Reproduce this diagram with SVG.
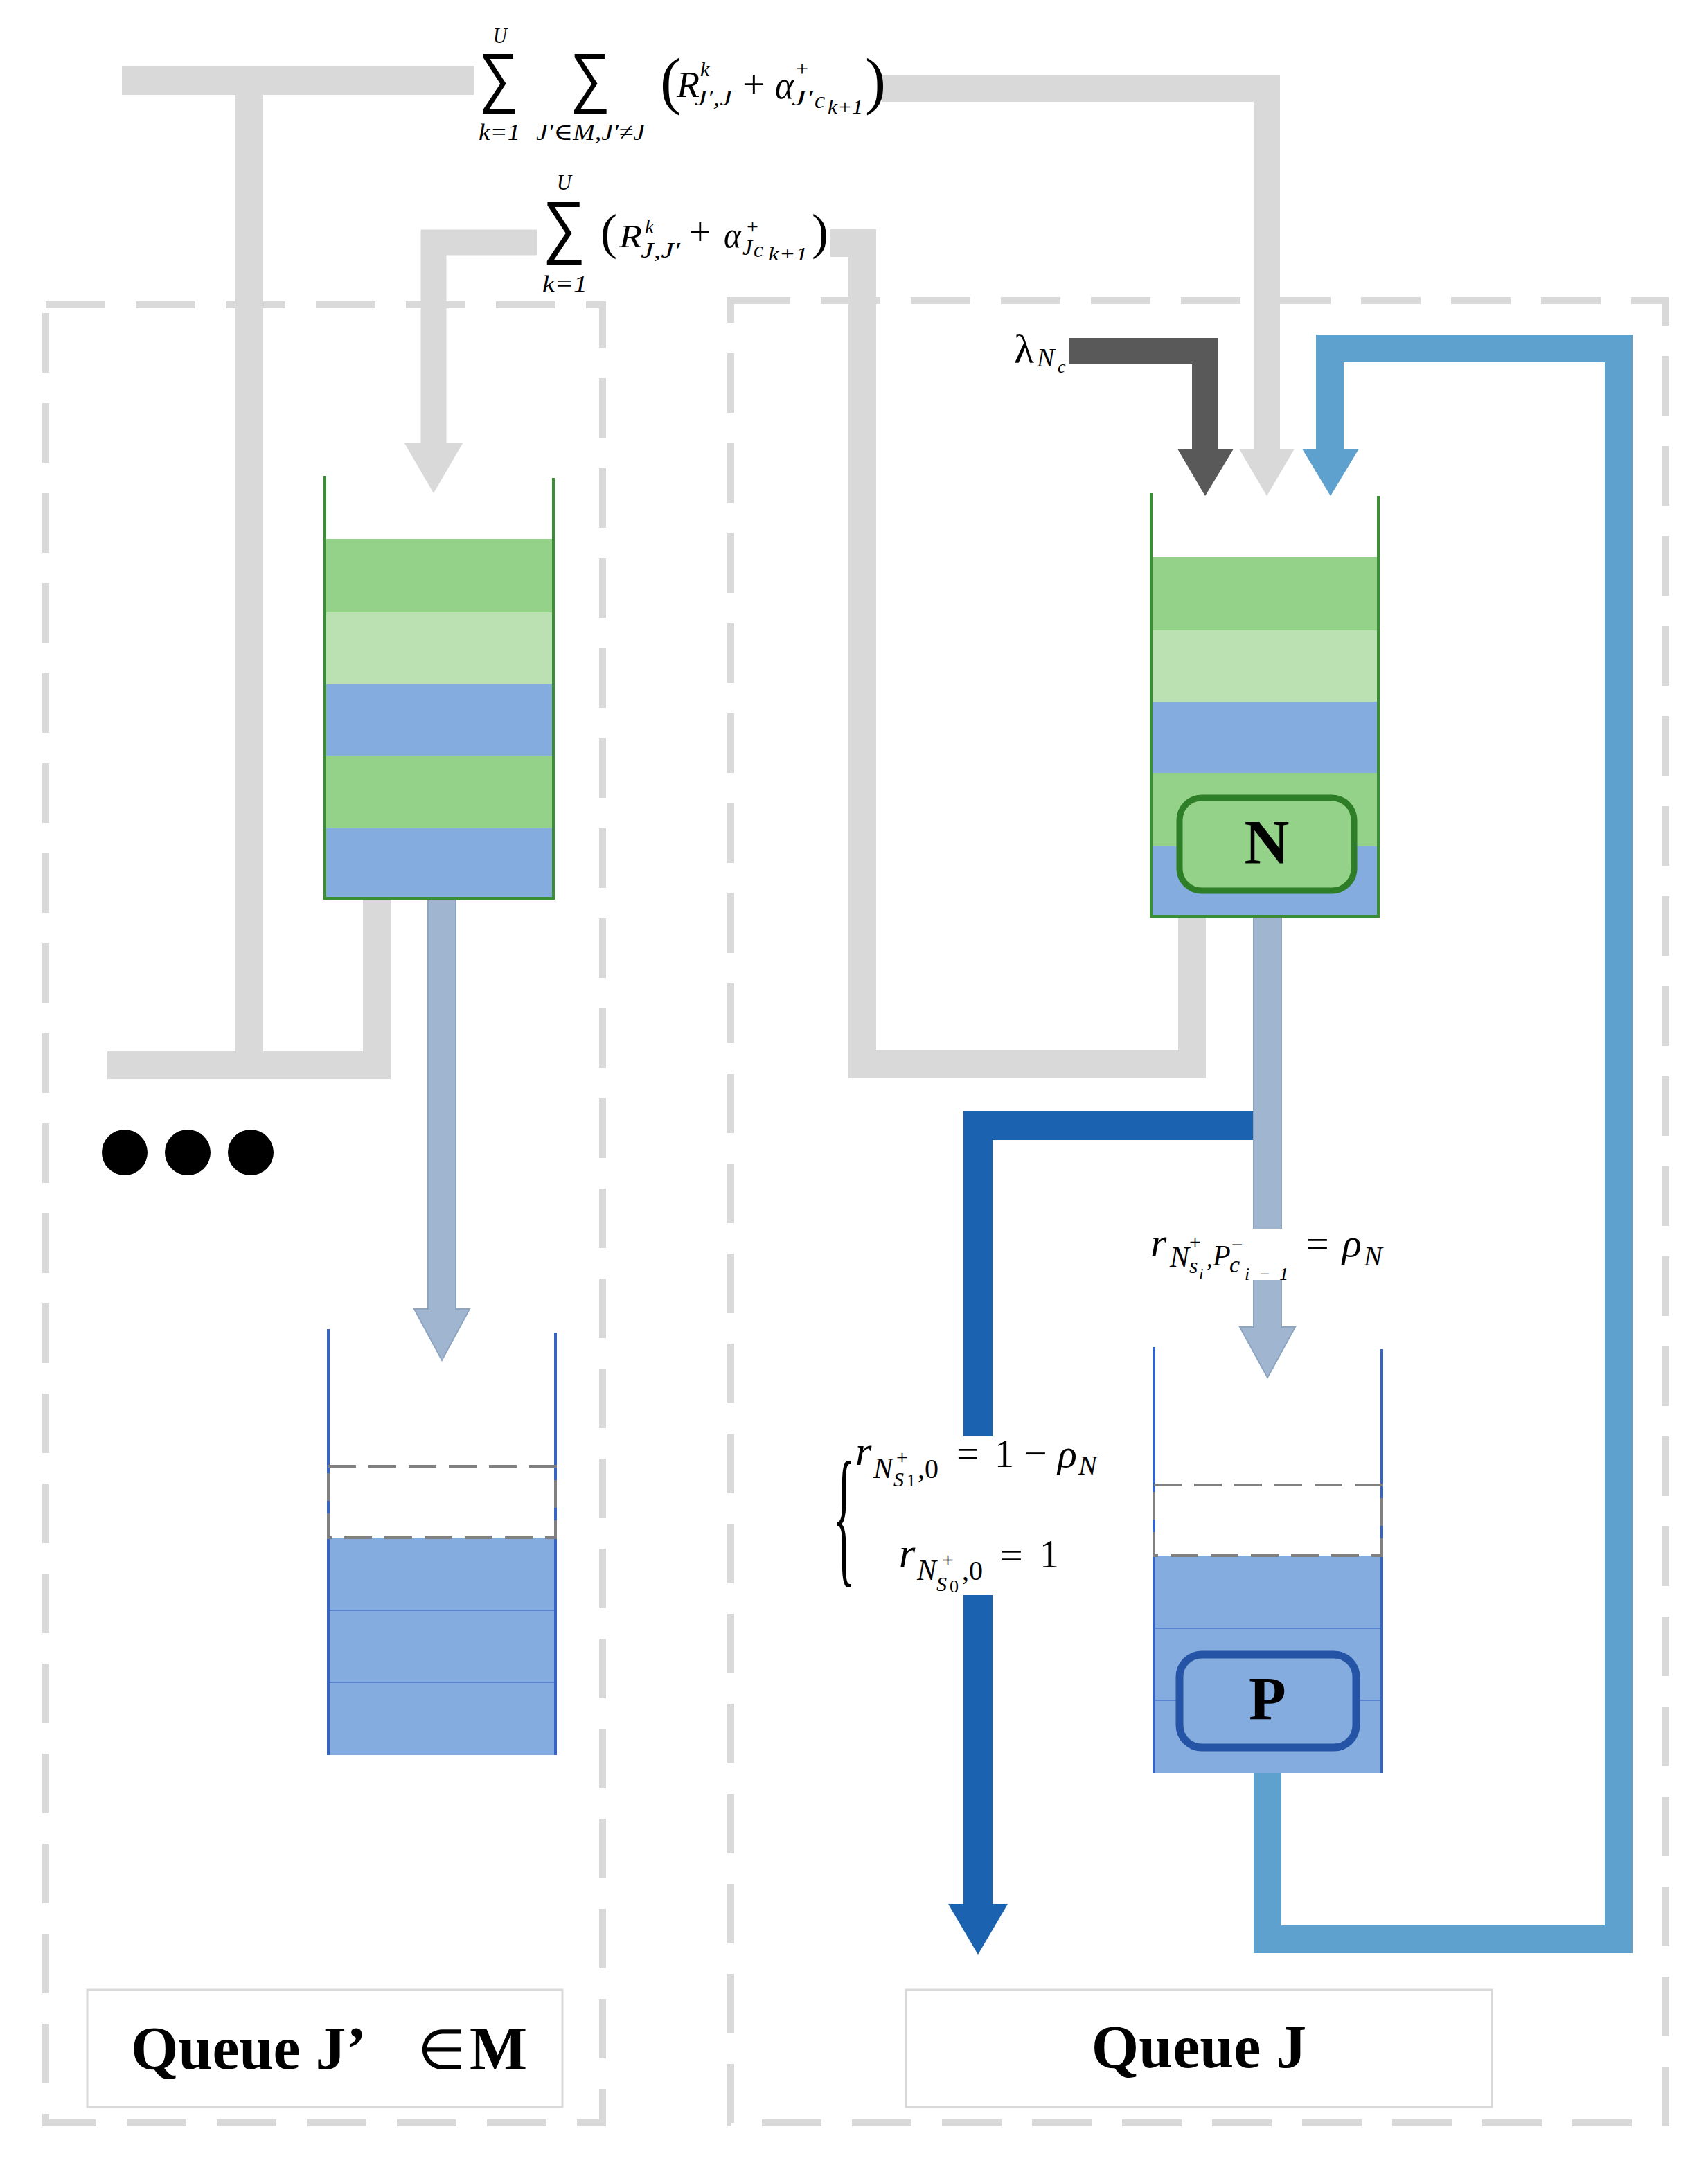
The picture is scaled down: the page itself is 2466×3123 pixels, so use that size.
<svg xmlns="http://www.w3.org/2000/svg" width="2466" height="3123" viewBox="0 0 2466 3123">
<style>
.frame{fill:none;stroke:#d9d9d9;stroke-width:10;stroke-dasharray:86 44}
.bar{fill:none;stroke-linejoin:miter;stroke-linecap:butt}
.lg{stroke:#d9d9d9}
.lgf{fill:#d9d9d9}
.dg{stroke:#595959}
.dgf{fill:#595959}
.lb{stroke:#5ea1cf}
.lbf{fill:#5ea1cf}
.db{stroke:#1b63b0}
.dbf{fill:#1b63b0}
.gb{fill:#a0b5cf;stroke:#8ea5c2;stroke-width:2}
.g1{fill:#95d289}
.g2{fill:#bbe0b2}
.b1{fill:#84acde}
.gwall{fill:none;stroke:#3a8f35;stroke-width:4}
.bwall{fill:none;stroke:#3763c2;stroke-width:4}
.bline{stroke:#5b84cf;stroke-width:2}
.dash{fill:none;stroke:#808080;stroke-width:4;stroke-dasharray:40 18}
.lab{fill:#fff;stroke:#d9d9d9;stroke-width:3}
.big{font-family:"Liberation Serif",serif;font-weight:bold;fill:#000}
.m{font-family:"Liberation Serif","DejaVu Serif",serif;font-style:italic;fill:#000}
.mu{font-family:"Liberation Serif","DejaVu Serif",serif;fill:#000}
.sig{font-family:"Liberation Sans","DejaVu Sans",sans-serif;fill:#000}
</style>

<g id="frames">
<rect id="frame-jprime" class="frame" x="66" y="440" width="804" height="2625"/>
<rect id="frame-j" class="frame" x="1055" y="434" width="1350" height="2631"/>
</g>

<g id="connectors">
<path class="bar lg" stroke-width="42" d="M176,116 H684"/>
<path class="bar lg" stroke-width="40" d="M360,116 V1538"/>
<path class="bar lg" stroke-width="40" d="M544,1297 V1538 H155"/>
<path class="bar lg" stroke-width="37" d="M775,350 H626 V642"/>
<polygon class="lgf" points="584,640 668,640 626,712"/>
<path class="bar lg" stroke-width="40" d="M1198,351 H1245 V1536 H1721 V1323"/>
<path class="bar lg" stroke-width="38" d="M1273,128 H1829 V650"/>
<polygon class="lgf" points="1789,648 1869,648 1829,716"/>
<path class="bar dg" stroke-width="38" d="M1544,507 H1740 V650"/>
<polygon class="dgf" points="1700,648 1781,648 1740,716"/>
<path class="bar lb" stroke-width="40" d="M1830,2560 V2800 H2337 V503 H1920 V650"/>
<polygon class="lbf" points="1880,648 1962,648 1921,716"/>
<path class="bar db" stroke-width="42" d="M1811,1625 H1412 V2751"/>
<polygon class="dbf" points="1369,2749 1455,2749 1412,2822"/>
<polygon class="gb" points="618,1297 658,1297 658,1890 678,1890 638,1964 598,1890 618,1890"/>
<polygon class="gb" points="1810,1323 1850,1323 1850,1916 1870,1916 1830,1989 1790,1916 1810,1916"/>
</g>

<g id="queue-jprime-upper">
<rect class="g1" x="469" y="778" width="330" height="106"/>
<rect class="g2" x="469" y="884" width="330" height="104"/>
<rect class="b1" x="469" y="988" width="330" height="103"/>
<rect class="g1" x="469" y="1091" width="330" height="105"/>
<rect class="b1" x="469" y="1196" width="330" height="101"/>
<polyline class="gwall" points="469,687 469,1297 799,1297 799,690"/>
</g>

<g id="queue-jprime-lower">
<rect class="b1" x="474" y="2220" width="328" height="314"/>
<line class="bline" x1="474" y1="2325" x2="802" y2="2325"/>
<line class="bline" x1="474" y1="2429" x2="802" y2="2429"/>
<line class="bwall" x1="474" y1="1919" x2="474" y2="2534"/>
<line class="bwall" x1="802" y1="1924" x2="802" y2="2534"/>
<rect class="dash" x="474" y="2117" width="328" height="103"/>
</g>

<g id="queue-j-n">
<rect class="g1" x="1662" y="804" width="328" height="106"/>
<rect class="g2" x="1662" y="910" width="328" height="103"/>
<rect class="b1" x="1662" y="1013" width="328" height="103"/>
<rect class="g1" x="1662" y="1116" width="328" height="106"/>
<rect class="b1" x="1662" y="1222" width="328" height="101"/>
<polyline class="gwall" points="1662,712 1662,1323 1990,1323 1990,716"/>
<rect x="1703" y="1152" width="252" height="134" rx="32" fill="#95d289" stroke="#2e7d27" stroke-width="9"/>
<text class="big" x="1829" y="1247" font-size="90" text-anchor="middle">N</text>
</g>

<g id="queue-j-p">
<rect class="b1" x="1666" y="2246" width="329" height="314"/>
<line class="bline" x1="1666" y1="2351" x2="1995" y2="2351"/>
<line class="bline" x1="1666" y1="2455" x2="1995" y2="2455"/>
<line class="bwall" x1="1666" y1="1945" x2="1666" y2="2560"/>
<line class="bwall" x1="1995" y1="1948" x2="1995" y2="2560"/>
<rect class="dash" x="1666" y="2144" width="329" height="102"/>
<rect x="1703" y="2389" width="255" height="134" rx="32" fill="#84acde" stroke="#2553a5" stroke-width="11"/>
<text class="big" x="1830" y="2482" font-size="88" text-anchor="middle">P</text>
</g>

<g id="dots">
<circle cx="180" cy="1664" r="33"/>
<circle cx="271" cy="1664" r="33"/>
<circle cx="362" cy="1664" r="33"/>
</g>

<g id="label-jprime">
<rect class="lab" x="126" y="2873" width="686" height="169"/>
<text class="big" y="2987" font-size="88"><tspan x="189">Queue J’</tspan><tspan x="603" font-weight="normal" font-size="80">∈</tspan><tspan x="678">M</tspan></text>
</g>

<g id="label-j">
<rect class="lab" x="1308" y="2873" width="846" height="169"/>
<text class="big" x="1731" y="2985" font-size="88" text-anchor="middle">Queue J</text>
</g>

<g id="formula-inter">
<text class="sig" x="720" y="144" font-size="96" text-anchor="middle" textLength="58" lengthAdjust="spacingAndGlyphs">∑</text>
<text class="m" x="712" y="62" font-size="32" textLength="20" lengthAdjust="spacingAndGlyphs">U</text>
<text class="m" x="691" y="202" font-size="34" textLength="60" lengthAdjust="spacingAndGlyphs">k=1</text>
<text class="sig" x="852" y="144" font-size="96" text-anchor="middle" textLength="58" lengthAdjust="spacingAndGlyphs">∑</text>
<text class="m" x="774" y="202" font-size="34" textLength="157" lengthAdjust="spacingAndGlyphs">J′∈M,J′≠J</text>
<text class="mu" x="953" y="147" font-size="90">(</text>
<text class="m" x="977" y="140" font-size="52" textLength="33" lengthAdjust="spacingAndGlyphs">R</text>
<text class="m" x="1011" y="110" font-size="30">k</text>
<text class="m" x="1003" y="152" font-size="32" textLength="54" lengthAdjust="spacingAndGlyphs">J′,J</text>
<text class="mu" x="1072" y="141" font-size="58">+</text>
<text class="m" x="1119" y="142" font-size="56" textLength="27" lengthAdjust="spacingAndGlyphs">α</text>
<text class="mu" x="1149" y="110" font-size="32">+</text>
<text class="m" x="1143" y="152" font-size="32" textLength="31" lengthAdjust="spacingAndGlyphs">J′</text>
<text class="m" x="1176" y="156" font-size="34">c</text>
<text class="m" x="1195" y="164" font-size="30" textLength="51" lengthAdjust="spacingAndGlyphs">k+1</text>
<text class="mu" x="1249" y="147" font-size="90">)</text>
</g>

<g id="formula-intra">
<rect x="776" y="250" width="421" height="175" fill="#fff"/>
<text class="sig" x="814" y="361" font-size="101" text-anchor="middle" textLength="62" lengthAdjust="spacingAndGlyphs">∑</text>
<text class="m" x="804" y="274" font-size="32" textLength="21" lengthAdjust="spacingAndGlyphs">U</text>
<text class="m" x="783" y="421" font-size="34" textLength="65" lengthAdjust="spacingAndGlyphs">k=1</text>
<text class="mu" x="867" y="359" font-size="72">(</text>
<text class="m" x="894" y="357" font-size="46" textLength="33" lengthAdjust="spacingAndGlyphs">R</text>
<text class="m" x="931" y="337" font-size="30">k</text>
<text class="m" x="925" y="372" font-size="32" textLength="57" lengthAdjust="spacingAndGlyphs">J,J′</text>
<text class="mu" x="995" y="354" font-size="56">+</text>
<text class="m" x="1045" y="357" font-size="52" textLength="25" lengthAdjust="spacingAndGlyphs">α</text>
<text class="mu" x="1078" y="337" font-size="30">+</text>
<text class="m" x="1072" y="368" font-size="32">J</text>
<text class="m" x="1088" y="371" font-size="32">c</text>
<text class="m" x="1109" y="376" font-size="28" textLength="57" lengthAdjust="spacingAndGlyphs">k+1</text>
<text class="mu" x="1172" y="359" font-size="72">)</text>
</g>

<g id="label-lambda">
<text class="mu" x="1464" y="524" font-size="60">λ</text>
<text class="m" x="1497" y="529" font-size="38">N</text>
<text class="m" x="1527" y="538" font-size="26">c</text>
</g>

<g id="label-rho">
<rect x="1655" y="1774" width="350" height="74" fill="#fff"/>
<text class="m" x="1661" y="1814" font-size="60">r</text>
<text class="m" x="1689" y="1829" font-size="42">N</text>
<text class="mu" x="1717" y="1803" font-size="30">+</text>
<text class="m" x="1717" y="1838" font-size="32">s</text>
<text class="m" x="1731" y="1847" font-size="24">i</text>
<text class="m" x="1742" y="1829" font-size="34">,</text>
<text class="m" x="1751" y="1827" font-size="42">P</text>
<text class="mu" x="1778" y="1807" font-size="30">−</text>
<text class="m" x="1775" y="1837" font-size="34">c</text>
<text class="m" x="1797" y="1848" font-size="26" textLength="63" lengthAdjust="spacing">i − 1</text>
<text class="mu" x="1886" y="1815" font-size="58">=</text>
<text class="m" x="1938" y="1814" font-size="58">ρ</text>
<text class="m" x="1969" y="1827" font-size="40">N</text>
</g>

<g id="label-branch">
<rect x="1200" y="2074" width="400" height="229" fill="#fff"/>
<text class="mu" font-size="220" transform="translate(1203,2262) scale(0.3,1)">{</text>
<text class="m" x="1235" y="2115" font-size="60">r</text>
<text class="m" x="1261" y="2134" font-size="42">N</text>
<text class="mu" x="1294" y="2114" font-size="30">+</text>
<text class="m" x="1290" y="2146" font-size="30">S</text>
<text class="mu" x="1309" y="2146" font-size="26">1</text>
<text class="mu" x="1325" y="2134" font-size="40">,0</text>
<text class="mu" x="1381" y="2118" font-size="58">=</text>
<text class="mu" x="1436" y="2118" font-size="56">1</text>
<text class="mu" x="1479" y="2118" font-size="58">−</text>
<text class="m" x="1527" y="2118" font-size="58">ρ</text>
<text class="m" x="1557" y="2129" font-size="40">N</text>
<text class="m" x="1298" y="2262" font-size="60">r</text>
<text class="m" x="1324" y="2281" font-size="42">N</text>
<text class="mu" x="1360" y="2262" font-size="30">+</text>
<text class="m" x="1352" y="2297" font-size="30">S</text>
<text class="mu" x="1371" y="2299" font-size="26">0</text>
<text class="mu" x="1389" y="2281" font-size="40">,0</text>
<text class="mu" x="1444" y="2265" font-size="58">=</text>
<text class="mu" x="1501" y="2263" font-size="56">1</text>
</g>
</svg>
